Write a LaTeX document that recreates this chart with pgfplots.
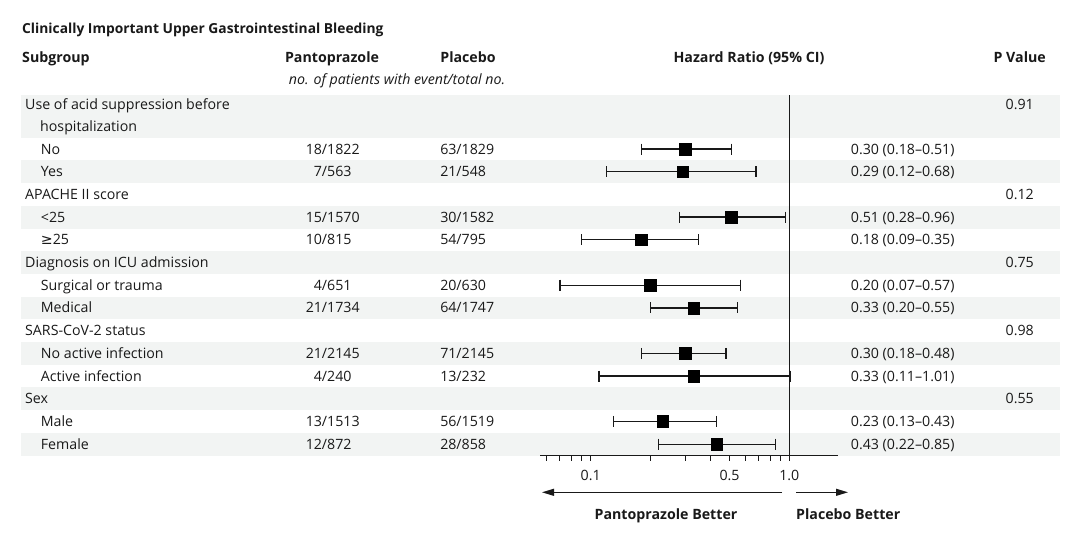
\documentclass[border=0pt]{standalone}
\usepackage{fontspec}
\setmainfont{Open Sans}
\newfontfamily\symfont{DejaVu Sans}
\usepackage{pgfplots}
\usepackage{pgfplotstable}
\pgfplotsset{compat=1.18}
\usetikzlibrary{arrows.meta}
\definecolor{band}{RGB}{242,244,243}
\definecolor{ink}{RGB}{25,25,25}

% hazard ratios, y = -(row - 0.5)
\pgfplotstableread{
y     hr
-0.5  0.30
-1.5  0.29
-3.5  0.51
-4.5  0.18
-6.5  0.20
-7.5  0.33
-9.5  0.30
-10.5 0.33
-12.5 0.23
-13.5 0.43
}\hrdata

% 95% CI segments, one per row
\pgfplotstableread{
x    y
0.18 -0.5
0.51 -0.5
nan  nan
0.12 -1.5
0.68 -1.5
nan  nan
0.28 -3.5
0.96 -3.5
nan  nan
0.09 -4.5
0.35 -4.5
nan  nan
0.07 -6.5
0.57 -6.5
nan  nan
0.20 -7.5
0.55 -7.5
nan  nan
0.18 -9.5
0.48 -9.5
nan  nan
0.11 -10.5
1.01 -10.5
nan  nan
0.13 -12.5
0.43 -12.5
nan  nan
0.22 -13.5
0.85 -13.5
}\cidata

\newcommand\rowtxt{\fontsize{14.2}{16}\selectfont}
\newcommand\hdtxt{\fontsize{14.2}{16}\selectfont\bfseries}
\newcommand\ry[1]{126.35+22.7*#1}

\begin{document}
\begin{tikzpicture}
\useasboundingbox (0,0) rectangle (1080pt,-539pt);
\begin{scope}[x=1pt,y=-1pt,every node/.style={inner sep=0pt,text=ink,font=\rowtxt,yshift=-2.3pt}]
  % row bands
  \fill[band] (20.7,95) rectangle (1060,137.7);
  \foreach \n in {2,4,...,14}
    \fill[band] (20.7,{137.7+22.7*(\n-1)}) rectangle (1060,{137.7+22.7*\n});

  % title and headers
  \node[anchor=mid west,font=\fontsize{13.8}{16}\selectfont\bfseries] at (22,29) {Clinically Important Upper Gastrointestinal Bleeding};
  \node[anchor=mid west,font=\hdtxt] at (22,58) {Subgroup};
  \node[anchor=mid,font=\hdtxt] at (332,58) {Pantoprazole};
  \node[anchor=mid,font=\hdtxt] at (468,58) {Placebo};
  \node[anchor=mid,font=\hdtxt] at (749,58) {Hazard Ratio (95\% CI)};
  \node[anchor=mid east,font=\hdtxt] at (1046,58) {P Value};
  \node[anchor=mid] at (397,80) {\itshape no. of patients with event/total no.};

  % subgroup labels
  \node[anchor=mid west] at (25,104.5) {Use of acid suppression before};
  \node[anchor=mid west] at (40,127) {hospitalization};
  \node[anchor=mid west] at (40.7,{\ry{1}}) {No};
  \node[anchor=mid west] at (40.7,{\ry{2}}) {Yes};
  \node[anchor=mid west] at (25,{\ry{3}}) {APACHE II score};
  \node[anchor=mid west] at (40.7,{\ry{4}}) {<25};
  \node[anchor=mid west] at (40.7,{\ry{5}}) {{\symfont ≥}25};
  \node[anchor=mid west] at (25,{\ry{6}}) {Diagnosis on ICU admission};
  \node[anchor=mid west] at (40.7,{\ry{7}}) {Surgical or trauma};
  \node[anchor=mid west] at (40.7,{\ry{8}}) {Medical};
  \node[anchor=mid west] at (25,{\ry{9}}) {SARS-CoV-2 status};
  \node[anchor=mid west] at (40.7,{\ry{10}}) {No active infection};
  \node[anchor=mid west] at (40.7,{\ry{11}}) {Active infection};
  \node[anchor=mid west] at (25,{\ry{12}}) {Sex};
  \node[anchor=mid west] at (40.7,{\ry{13}}) {Male};
  \node[anchor=mid west] at (40.7,{\ry{14}}) {Female};

  % event counts, aligned on the slash
  \foreach \n/\a/\b in {1/18/1822,2/7/563,4/15/1570,5/10/815,7/4/651,8/21/1734,10/21/2145,11/4/240,13/13/1513,14/12/872}
    \node[anchor=mid west] at (327,{\ry{\n}}) {\llap{\a/}\b};
  \foreach \n/\a/\b in {1/63/1829,2/21/548,4/30/1582,5/54/795,7/20/630,8/64/1747,10/71/2145,11/13/232,13/56/1519,14/28/858}
    \node[anchor=mid west] at (461.5,{\ry{\n}}) {\llap{\a/}\b};

  % hazard ratio text
  \foreach \n/\t in {1/0.30 (0.18–0.51),2/0.29 (0.12–0.68),4/0.51 (0.28–0.96),5/0.18 (0.09–0.35),7/0.20 (0.07–0.57),8/0.33 (0.20–0.55),10/0.30 (0.18–0.48),11/0.33 (0.11–1.01),13/0.23 (0.13–0.43),14/0.43 (0.22–0.85)}
    \node[anchor=mid west] at (850.7,{\ry{\n}}) {\t};

  % P values
  \node[anchor=mid east] at (1034,104.5) {0.91};
  \foreach \n/\p in {3/0.12,6/0.75,9/0.98,12/0.55}
    \node[anchor=mid east] at (1034,{\ry{\n}}) {\p};

  % direction arrows
  \draw[ink,line width=1.1pt,-{Triangle[length=12pt,width=7pt]}] (782,492.3) -- (542,492.3);
  \draw[ink,line width=1.1pt,-{Triangle[length=12pt,width=7pt]}] (796,492.3) -- (848,492.3);
  \node[anchor=mid,font=\hdtxt] at (666,515) {Pantoprazole Better};
  \node[anchor=mid west,font=\hdtxt] at (796,515) {Placebo Better};
\end{scope}

\begin{axis}[
  at={(540pt,-455.5pt)}, anchor=south west,
  scale only axis, width=298pt, height=360.5pt,
  xmode=log, xmin=0.05555, xmax=1.759,
  ymin=-14, ymax=1.88,
  axis y line=none, axis x line*=bottom,
  axis line style={ink,line width=1pt},
  xtick={0.1,0.5,1}, xticklabels={0.1,0.5,1.0},
  minor xtick={0.06,0.07,0.08,0.09,0.2,0.3,0.4,0.6,0.7,0.8,0.9},
  tick align=outside, major tick length=5pt, minor tick length=5pt,
  every tick/.style={ink,line width=0.9pt},
  xticklabel style={font=\rowtxt,text=ink,yshift=-6pt},
  clip=false,
]
\addplot[ink,line width=1.1pt] coordinates {(1,-14) (1,1.88)};
\addplot[ink,line width=1.3pt,mark=|,mark size=5.5pt,mark options={line width=1.3pt},unbounded coords=jump] table[x=x,y=y] {\cidata};
\addplot[only marks,mark=square*,mark size=5.8pt,draw=black,fill=black] table[x=hr,y=y] {\hrdata};
\end{axis}
\end{tikzpicture}
\end{document}
